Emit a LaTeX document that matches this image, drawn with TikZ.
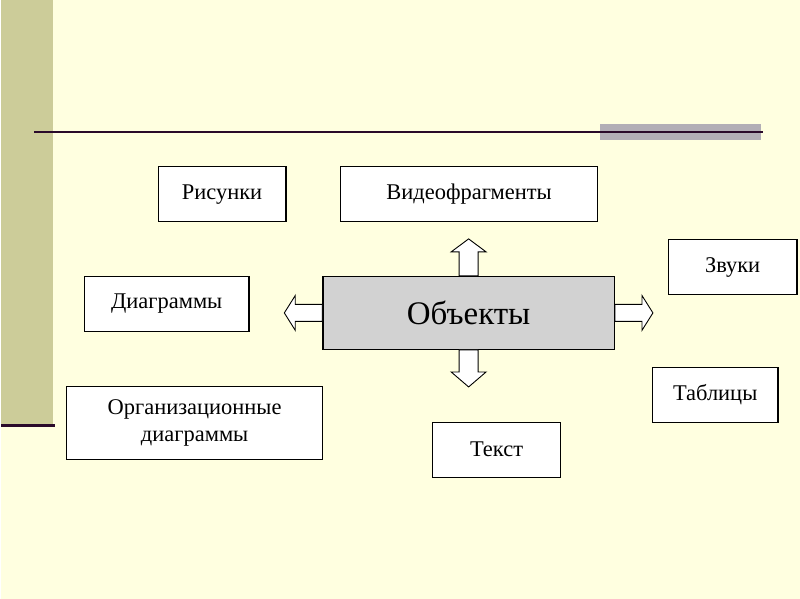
\documentclass[tikz,border=0pt]{standalone}
\usepackage{fontspec}
\setmainfont{Liberation Serif}
\usetikzlibrary{positioning}
\definecolor{slidebg}{HTML}{FFFFE0}
\definecolor{stripcol}{HTML}{CCCC99}
\definecolor{rulecol}{HTML}{2A0A2A}
\definecolor{tabcol}{HTML}{B2AEB6}
\definecolor{mainfill}{HTML}{D2D2D2}

\begin{document}
\begin{tikzpicture}[x=1pt, y=-1pt,
    item/.style={draw=black, line width=1.1pt, fill=white, minimum height=55pt,
      inner sep=0pt, font=\fontsize{22.5}{27}\selectfont},
    mainbox/.style={draw=black, line width=1.3pt, fill=mainfill, minimum width=292pt,
      minimum height=73pt, font=\fontsize{33}{36}\selectfont},
    blockarrow/.style={draw=black, line width=0.9pt, fill=white, line join=miter}]
          % slide background and decoration
          \fill[slidebg] (0,0) rectangle (800,600);
          \fill[stripcol] (0,0) rectangle (52,426);
          \draw[rulecol, line width=3pt] (0,426) -- (54,426);
          \fill[tabcol] (600,124) rectangle (761,140);
          \draw[rulecol, line width=2.2pt] (33,132) -- (763,132);
          \useasboundingbox (0,0) rectangle (800,600);

          % central node
          \node[mainbox] (obj) at (468,313.5) {Объекты};

          % surrounding items
          \node[item, minimum width=128pt] (ris) at (221,194.5) {Рисунки};
          \node[item, minimum width=257pt] (video) at (468.5,194.5) {Видеофрагменты};
          \node[item, minimum width=129pt] (zvuk) at (732.5,267.5) {Звуки};
          \node[item, minimum width=165pt] (diag) at (165.5,304.5) {Диаграммы};
          \node[item, minimum width=126pt] (tabl) at (715,395.5) {Таблицы};
          \node[item, minimum width=257pt, minimum height=73pt, align=center]
            (org) at (193.5,423.5) {Организационные\\диаграммы};
          \node[item, minimum width=128pt] (tekst) at (496,450.5) {Текст};

          % block arrows out of the central node
          \draw[blockarrow] ([xshift=-9.5pt]obj.north) -- ++(0,-24) -- ++(-8,0)
            -- ++(17.5,-13) -- ++(17.5,13) -- ++(-8,0) -- ++(0,24) -- cycle;
          \draw[blockarrow] ([xshift=-9.5pt]obj.south) -- ++(0,22) -- ++(-8,0)
            -- ++(17.5,15) -- ++(17.5,-15) -- ++(-8,0) -- ++(0,-22) -- cycle;
          \draw[blockarrow] ([yshift=8.5pt]obj.west) -- ++(-27,0) -- ++(0,-9)
            -- ++(-11,17.5) -- ++(11,17.5) -- ++(0,-9) -- ++(27,0) -- cycle;
          \draw[blockarrow] ([yshift=8.5pt]obj.east) -- ++(27,0) -- ++(0,-9)
            -- ++(11,17.5) -- ++(-11,17.5) -- ++(0,-9) -- ++(-27,0) -- cycle;
        \end{tikzpicture}
\end{document}
